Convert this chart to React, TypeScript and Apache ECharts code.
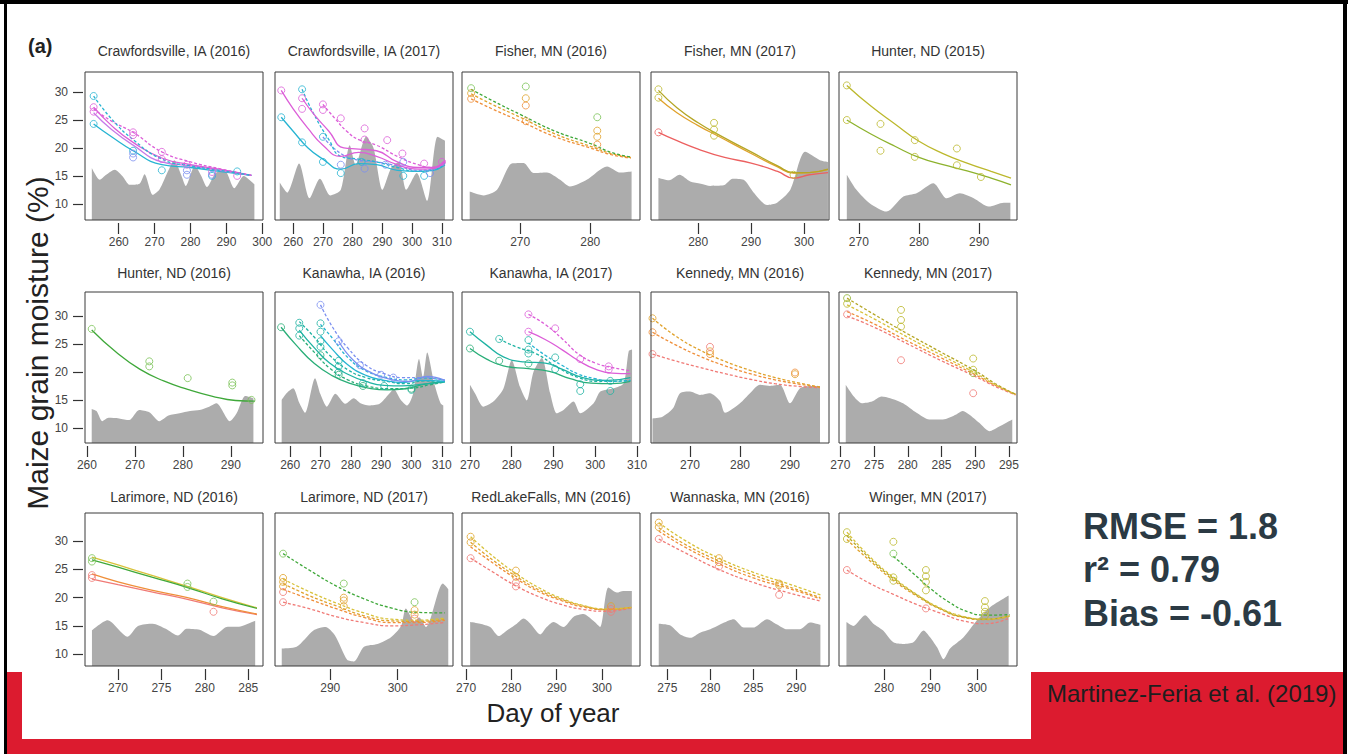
import React, { useEffect, useRef } from 'react';
import * as echarts from 'echarts';

type Pt = [number, number];

// ---------- text ----------
const panelTitles = [
  'Crawfordsville, IA (2016)', 'Crawfordsville, IA (2017)', 'Fisher, MN (2016)', 'Fisher, MN (2017)', 'Hunter, ND (2015)',
  'Hunter, ND (2016)', 'Kanawha, IA (2016)', 'Kanawha, IA (2017)', 'Kennedy, MN (2016)', 'Kennedy, MN (2017)',
  'Larimore, ND (2016)', 'Larimore, ND (2017)', 'RedLakeFalls, MN (2016)', 'Wannaska, MN (2016)', 'Winger, MN (2017)',
];
const xTickLabels: number[][] = [
  [260, 270, 280, 290, 300], [260, 270, 280, 290, 300, 310], [270, 280], [280, 290, 300], [270, 280, 290],
  [260, 270, 280, 290], [260, 270, 280, 290, 300, 310], [270, 280, 290, 300, 310], [270, 280, 290], [270, 275, 280, 285, 290, 295],
  [270, 275, 280, 285], [290, 300], [270, 280, 290, 300], [275, 280, 285, 290], [280, 290, 300],
];
const yTickLabels = [10, 15, 20, 25, 30];
const xRanges: Pt[] = [
  [250.6, 300.2], [253.9, 313.7], [261.7, 287.1], [271.1, 304.7], [266.7, 296.3],
  [259.6, 296.7], [255.0, 313.7], [268.1, 310.7], [262.2, 297.8], [269.8, 296.2],
  [266.2, 286.7], [281.8, 308.2], [269.1, 308.4], [273.1, 293.8], [270.3, 308.6],
];
const rowYRanges: Pt[] = [[7.1, 33.6], [7.3, 34.3], [7.9, 35.0]];

// ---------- Crawfordsville 2016 ----------
const craw16Gray: Pt[] = [[252.5,16.4],[254.7,14.3],[256.5,15.2],[258.9,16.1],[261,15],[263.1,13.4],[265.8,13.6],[267.2,15.3],[269.5,11.6],[271.4,12.6],[273.5,15.5],[275.5,17.8],[277.5,15],[278.7,13.2],[281.2,16.8],[283,15],[284.6,13],[287,15.5],[289.5,16],[292.2,12.8],[294.8,15],[297.8,13.5]];
const craw16CyanDash: Pt[] = [[253,29.3],[258,25.2],[264,21.5],[272,18],[280,16.8],[288,16],[297,15.1]];
const craw16MagentaSolid: Pt[] = [[253,27.3],[258,24],[264,21],[272,18.2],[280,17],[288,16.2],[297,15.1]];
const craw16VioletSolid: Pt[] = [[253,26.3],[258,23.3],[264,20.5],[272,17.5],[280,16.8],[288,16],[297,15.1]];
const craw16CyanSolid: Pt[] = [[253,24.3],[258,22],[264,19.5],[272,17],[280,16.5],[288,15.8],[297,15.1]];
const craw16MagentaDash: Pt[] = [[253,27],[258,24.8],[264,22.8],[272,19.3],[280,17.5],[288,16.3],[297,15.1]];
const craw16ObsCyan: Pt[] = [[253,29.3],[253,24.3],[264,19.5],[272,16],[286,15],[293,15.8]];
const craw16ObsMagenta: Pt[] = [[253,27.3],[253,26.5],[264,22.8],[264,22.3],[272,19.3],[272,18],[279,17],[286,15.7],[293,15]];
const craw16ObsBlue: Pt[] = [[264,18.3],[264,19],[279,16],[279,15.2],[286,15.2]];

// ---------- Crawfordsville 2017 ----------
const craw17Gray: Pt[] = [[255.5,13.8],[258,12],[262,17.2],[265.5,11],[269,14.5],[272.5,11.5],[276,12.5],[279,20.5],[281,17],[284.5,22],[287,20],[290,12.5],[293,16.5],[295.5,17.5],[298,12.5],[301.5,15.5],[305,10.5],[308.5,22],[311,21.3]];
const craw17MagentaSolidA: Pt[] = [[256,30.3],[260,27],[265,23.5],[270,20.5],[276,18.5],[282,19.2],[288,18.5],[295,17],[302,16.2],[307,16.3],[311,17.5]];
const craw17CyanSolid: Pt[] = [[256,25.5],[260,23],[265,20],[270,18],[276,16.2],[282,17.2],[288,17],[295,16],[302,15.8],[307,16],[311,17]];
const craw17CyanDash: Pt[] = [[263,30.5],[267,26],[272,21.5],[276,18.5],[282,18],[288,17.5],[295,16.5],[302,15.8],[307,16],[311,17.2]];
const craw17MagentaSolidB: Pt[] = [[263,28.9],[267,26],[272,23],[277,20],[282,19.8],[288,19.5],[295,17.5],[302,16.5],[307,16.5],[311,17.8]];
const craw17MagentaDash: Pt[] = [[270,27.8],[274,25.3],[278,23],[282,21.5],[288,20.5],[295,18.5],[302,17],[307,16.5],[311,17.8]];
const craw17BlueDash: Pt[] = [[270,22],[276,19],[282,17.8],[288,17.5],[295,16.8],[302,16],[307,16.2],[311,17.3]];
const craw17ObsMagenta: Pt[] = [[256,30.3],[263,28.9],[263,27],[270,27.8],[270,26.8],[276,25.3],[284,23.5],[284,21.5],[291.6,21.4],[296.7,19],[304,17.2],[310,17.5]];
const craw17ObsCyan: Pt[] = [[256,25.5],[263,21],[263,30.5],[270,17.5],[270,22],[276,15.5],[283,17.5],[297,15],[304,15]];
const craw17ObsBlue: Pt[] = [[276,17],[284,16.3],[291,17],[297,17.5],[306,15.5]];

// ---------- Fisher 2016 ----------
const fish16Gray: Pt[] = [[262.8,12.2],[264.8,11.5],[266.7,12.5],[268.8,17.2],[270.5,17.3],[271.9,15.5],[273.8,15.6],[275.7,14.3],[277.1,13.1],[279.5,14.3],[282.4,16.7],[284.3,15.6],[285.9,15.8]];
const fish16GreenDash: Pt[] = [[263,30.5],[266,28.5],[270,26],[275,23],[280,20.8],[283,19.2],[285.8,18.4]];
const fish16YellowDash: Pt[] = [[263,29.7],[266,27.8],[270,25.5],[275,22.5],[280,20.3],[283,19],[285.8,18.3]];
const fish16OrangeDash: Pt[] = [[263,28.8],[266,27],[270,24.8],[275,22],[280,20],[283,18.8],[285.8,18.2]];
const fish16ObsGreen: Pt[] = [[263,30.7],[270.8,31],[281,25.5]];
const fish16ObsYellow: Pt[] = [[263,29.8],[270.8,28.9],[281,23.1],[281,22]];
const fish16ObsOrange: Pt[] = [[263,28.8],[270.8,27.6],[270.8,24.8],[281,20.6]];

// ---------- Fisher 2017 ----------
const fish17Gray: Pt[] = [[272.5,14.6],[274.5,14.2],[276.5,15.2],[278.5,14],[280.5,13.6],[282.3,13.2],[284.8,13.3],[286.5,14.5],[288.6,14.3],[290.5,12],[293,9.8],[294.9,10.2],[297.4,12.5],[300.2,19.3],[303,17.8],[304.5,17.5]];
const fish17OliveSolid: Pt[] = [[272.5,30.3],[276,27.2],[280,24.5],[284,22.3],[290,19.3],[295,16.8],[298,15.6],[301,15.6],[304.5,16.2]];
const fish17GoldSolid: Pt[] = [[272.5,28.9],[276,26.3],[280,24],[284,22],[290,19],[295,16.6],[298,15.5],[301,15.6],[304.5,16.1]];
const fish17RedSolid: Pt[] = [[272.5,22.8],[276,21.3],[280,19.8],[285,18.3],[290,17.3],[295,15.8],[298,14.6],[301,15.2],[304.5,15.6]];
const fish17ObsOlive: Pt[] = [[272.5,30.5],[272.5,29],[283,24.5],[283,23.3],[283,22.2],[298,15.2]];
const fish17ObsRed: Pt[] = [[272.5,22.8]];

// ---------- Hunter 2015 ----------
const hunt15Gray: Pt[] = [[268,15.2],[269.6,12.5],[271.8,10.1],[274.6,8.6],[277.4,11.3],[279.6,11.9],[282.4,13.7],[284.6,11],[286.8,11.9],[289.1,11],[291.6,9.5],[294.1,10.2],[295.2,10.2]];
const hunt15Upper: Pt[] = [[268,31.2],[272,27.5],[276,24.3],[280,21.2],[284,19],[288,17.3],[292,15.8],[295.3,14.6]];
const hunt15Lower: Pt[] = [[268,25],[272,22.5],[276,20.3],[280,18.3],[284,17],[288,15.9],[292,14.6],[295.3,13.4]];
const hunt15Obs: Pt[] = [[268,31.2],[268,25],[273.6,24.3],[273.6,19.5],[279.3,21.4],[279.3,18.4],[286.3,19.9],[286.3,16.9],[290.3,14.8]];

// ---------- Hunter 2016 ----------
const hunt16Gray: Pt[] = [[261,13.4],[262,13],[263.2,11.2],[264.5,11.8],[266.7,11.7],[268.8,11.4],[270.9,13.2],[273,12.8],[275.1,11.2],[277,12.2],[279.3,12.6],[281.5,13],[283.5,13.2],[285.5,13.8],[287,14.4],[289.8,11.2],[291.2,12.6],[293,15.7],[294.7,15.3]];
const hunt16Green: Pt[] = [[261,27.5],[266,23.6],[271,20.5],[276,18.4],[281,16.9],[286,15.7],[291,14.9],[295,14.8]];
const hunt16Obs: Pt[] = [[261,27.7],[273,21.9],[273,21],[281,18.9],[290.3,18.1],[290.3,17.6],[294.3,15]];

// ---------- Kanawha 2016 ----------
const kan16Gray: Pt[] = [[257.2,15],[258.8,16.2],[261,17.1],[263,14.5],[264.9,12.7],[268.2,18.9],[270,16],[272.1,13.8],[274.9,16.1],[278.2,14.3],[281,15.3],[283.2,14.4],[286,14],[289.5,14.3],[292.5,16],[294.2,16.9],[296.5,15],[298.6,14],[300.5,16],[302.5,22.3],[303.8,19],[305.2,23.5],[307.5,18],[309.6,14.4],[310.5,14]];
const kan16GreenSolid: Pt[] = [[257,28],[262,24.8],[268,21.5],[274,19.3],[280,17.9],[286,17.1],[292,16.8],[298,17],[304,17.8],[311,18.3]];
const kan16TealSolid: Pt[] = [[263,27.5],[268,24.3],[273,21.6],[279,19.6],[285,18.3],[291,17.6],[297,17.5],[303,17.8],[311,18.2]];
const kan16TealDash: Pt[] = [[263,29],[268,26.2],[273,23],[279,20.4],[285,19],[291,18.4],[298,17.9],[304,18.4],[311,18.3]];
const kan16CyanSolid: Pt[] = [[270,26.5],[274,24],[279,21.3],[285,19.4],[291,18.5],[297,18.1],[303,18.5],[311,18.3]];
const kan16CyanDash: Pt[] = [[270,28.5],[274,26],[279,22.6],[285,20.2],[292,19],[298,18.6],[304,18.9],[311,18.5]];
const kan16BlueDash: Pt[] = [[270,32],[274,28],[279,24.3],[285,21.2],[291,19.7],[297,19],[304,19],[311,18.5]];
const kan16BlueSolid: Pt[] = [[276,25.5],[281,22],[287,19.8],[293,18.7],[299,18.3],[305,19.2],[311,18.5]];
const kan16GreenDash: Pt[] = [[263,26.5],[268,23.5],[273,20.7],[279,18.6],[286,17.4],[293,17],[300,17.1],[306,17.7],[311,18.2]];
const kan16ObsTeal: Pt[] = [[263,28.8],[263,27.8],[263,26.5],[270,28.7],[270,27.2],[270,25.5],[270,24.5],[276,22],[276,21],[276,20],[284,18],[291,17.5],[300,16.8]];
const kan16ObsBlue: Pt[] = [[270,32],[276,25.5],[283,21.2],[290,19.5],[294,19]];
const kan16ObsGreen: Pt[] = [[257,28],[270,23],[276,19.5],[284,17.5],[300,17]];

// ---------- Kanawha 2017 ----------
const kan17Gray: Pt[] = [[270,17.7],[271.2,16.2],[273.2,13.8],[275.6,14.7],[278,17],[280,22.1],[282,17.3],[283.6,14.9],[285.2,20],[287.2,22.5],[289.2,16.2],[290.8,12.6],[292.4,13.2],[294.8,14.7],[296.4,12.6],[299.6,14.4],[301.2,16.5],[304.4,17.1],[306.8,18],[308,23.7],[308.8,24]];
const kan17TealSolid: Pt[] = [[270,27.2],[274,24.8],[278,22.7],[283,21.8],[288,21.6],[292,20.5],[297,19],[303,18.5],[308.4,19]];
const kan17GreenSolid: Pt[] = [[270,24.2],[274,22.3],[278,21.1],[284,20.6],[289,20.1],[294,18.8],[299,18],[304,17.9],[308.4,18.3]];
const kan17TealDash: Pt[] = [[277,25.9],[281,24.5],[286,23.2],[291,20.8],[296,19],[301,18.3],[308.4,18.5]];
const kan17MagentaDash: Pt[] = [[284,30.3],[288,28.5],[292,26],[296,23.2],[300,21.6],[304,20.8],[308.4,20.2]];
const kan17MagentaSolid: Pt[] = [[284,27.2],[288,25.8],[292,24],[296,22],[300,20.5],[304,19.8],[308.4,19.7]];
const kan17CyanDash: Pt[] = [[284,25.2],[288,23],[292,21.2],[296,19.6],[300,18.8],[304,18.3],[308.4,18.5]];
const kan17ObsTeal: Pt[] = [[270,27.2],[277,25.9],[284,25.7],[284,24],[284,23.3],[290.4,22.6],[290.4,20.5],[296.4,17.8],[296.4,16.6],[303.6,18.4],[303.6,16.6]];
const kan17ObsGreen: Pt[] = [[270,24.2],[277,22],[284,21.5]];
const kan17ObsMagenta: Pt[] = [[284,30.3],[284,27.2],[290.4,27.8],[296.4,22.3],[303.2,21],[303.2,20.4]];

// ---------- Kennedy 2016 ----------
const ken16Gray: Pt[] = [[262.5,11.7],[264.5,12],[266.6,13.5],[268,16.2],[270,16.5],[272,15.9],[274,16.2],[276,14.8],[277,12.7],[280,14.4],[282,16.2],[284,17.7],[286,17.5],[288,17.7],[290,14.4],[292,17.1],[294,17.5],[296,17.5]];
const ken16YellowDash: Pt[] = [[262.5,29.6],[267,26.5],[272,23.9],[277,21.9],[282,20.3],[287,19],[292,18],[296,17.3]];
const ken16OrangeDash: Pt[] = [[262.5,27.1],[267,24.9],[272,22.8],[277,21.1],[282,19.7],[287,18.6],[292,17.8],[296,17.3]];
const ken16SalmonDash: Pt[] = [[262.5,23.2],[267,22],[272,20.8],[277,19.7],[282,18.7],[287,17.9],[292,17.4],[296,17.2]];
const ken16ObsYellow: Pt[] = [[262.5,29.6],[274,23.7],[291,19.6]];
const ken16ObsOrange: Pt[] = [[262.5,27.1],[274,23.2],[291,19.9]];
const ken16ObsSalmon: Pt[] = [[262.5,23.2],[274,24.5]];

// ---------- Kennedy 2017 ----------
const ken17Gray: Pt[] = [[270.8,17.7],[272,15.6],[273.2,14.4],[274.7,14.7],[276.1,15.6],[277.4,15.3],[279.3,14.4],[281.3,12.7],[283.2,11.5],[285.2,11.5],[287.2,12.4],[288.1,13],[289.1,12.4],[290.6,10.9],[292.1,9.4],[293.5,10.2],[295.5,11.5]];
const ken17GreenDash: Pt[] = [[271,33.2],[275,30.3],[280,26.8],[285,23.5],[290,20.2],[293,17.9],[296,16]];
const ken17YellowDash: Pt[] = [[271,32],[275,29.5],[280,26.2],[285,23],[290,19.8],[293,17.7],[296,16]];
const ken17OrangeDash: Pt[] = [[271,30.8],[275,28.6],[280,25.5],[285,22.5],[290,19.5],[293,17.6],[296,16]];
const ken17SalmonDash: Pt[] = [[271,30],[275,28],[280,25],[285,22],[290,19.2],[293,17.4],[296,15.9]];
const ken17ObsGreen: Pt[] = [[271,33.2],[289.7,19.8]];
const ken17ObsYellow: Pt[] = [[271,32.2],[279,31.1],[279,29.3],[279,28.1],[289.7,22.4],[289.7,20.4]];
const ken17ObsSalmon: Pt[] = [[271,30.3],[279,22.1],[289.7,16.2]];

// ---------- Larimore 2016 ----------
const lar16Gray: Pt[] = [[267,14.2],[268.8,16],[271.1,13.1],[272.3,15],[274,15.4],[275.5,14.5],[276.9,13.3],[277.9,14.5],[279.4,14.3],[281,13.2],[282.5,14.8],[284.1,14.9],[285.8,15.9]];
const lar16GreenSolid: Pt[] = [[267,26.7],[270,25.4],[274,23.6],[278,21.8],[282,19.8],[286,18.1]];
const lar16YellowSolid: Pt[] = [[267,27.2],[270,25.8],[274,23.9],[278,22],[282,20],[286,18.2]];
const lar16OrangeSolid: Pt[] = [[267,24.2],[270,22.8],[274,21.3],[278,20],[282,18.4],[286,17.1]];
const lar16SalmonSolid: Pt[] = [[267,23.3],[270,22.3],[274,21],[278,19.7],[282,18.2],[286,17]];
const lar16ObsGreen: Pt[] = [[267,27],[267,26.4],[278,22.5],[278,21.9],[281,19.3]];
const lar16ObsOrange: Pt[] = [[267,24],[267,23.5],[281,17.5]];

// ---------- Larimore 2017 ----------
const lar17Gray: Pt[] = [[282.8,11],[285,11.3],[287.5,14.2],[289.3,14.8],[290.7,13.3],[292.5,9],[293.5,8.7],[295,11.3],[297,11.8],[299,13],[300.5,15],[301.2,18.1],[302.5,15.8],[303.2,16.5],[304.2,14.8],[306.7,22.5],[307.5,21.5]];
const lar17GreenDash: Pt[] = [[283,27.8],[287,24.8],[291,22],[295,19.8],[299,18.2],[303,17.4],[307,17.3]];
const lar17YellowDash: Pt[] = [[283,23.3],[287,21],[291,19],[295,17.3],[299,16.2],[303,16],[307,16.4]];
const lar17GoldDash: Pt[] = [[283,22.5],[287,20.3],[291,18.5],[295,16.8],[299,15.9],[303,15.8],[307,16.2]];
const lar17OrangeDash: Pt[] = [[283,21.5],[287,19.7],[291,18],[295,16.5],[299,15.6],[303,15.6],[307,16]];
const lar17SalmonDash: Pt[] = [[283,19.2],[287,18],[291,16.6],[295,15.6],[299,15],[303,15.2],[307,15.6]];
const lar17ObsGreen: Pt[] = [[283,27.8],[292,22.5],[302.5,19.2]];
const lar17ObsYellow: Pt[] = [[283,23.5],[283,22.8],[283,22],[292,20],[292,19.5],[292,18.5],[302.5,17.8],[302.5,17]];
const lar17ObsSalmon: Pt[] = [[283,21],[283,19.2],[302.5,16.3]];

// ---------- RedLakeFalls 2016 ----------
const red16Gray: Pt[] = [[270.9,15.7],[273.1,15.4],[275.3,14.8],[277.2,13.2],[279,14.2],[281.2,15.4],[282.7,16.3],[284.2,15.4],[286.4,13.5],[287.8,14.8],[289.3,15.7],[291.5,14.8],[293.7,16.6],[295.9,17.1],[298.1,15.9],[299.6,14.8],[301.4,21.8],[303.3,20.9],[304.7,21.2],[306.6,21.2]];
const red16YellowDash: Pt[] = [[271,30.8],[276,27.3],[281,24.3],[286,21.8],[291,19.9],[296,18.6],[301,18],[306.5,18.3]];
const red16GoldDash: Pt[] = [[271,29.8],[276,26.6],[281,23.8],[286,21.4],[291,19.7],[296,18.5],[301,17.9],[306.5,18.3]];
const red16OrangeDash: Pt[] = [[271,29],[276,26.1],[281,23.4],[286,21.1],[291,19.5],[296,18.3],[301,17.9],[306.5,18.3]];
const red16SalmonDash: Pt[] = [[271,27],[276,24.5],[281,22.1],[286,20.2],[291,18.8],[296,17.9],[301,17.6],[306.5,18.2]];
const red16ObsYellow: Pt[] = [[271,30.8],[271,29.8],[281,24.8],[281,23.7],[302,18.5]];
const red16ObsSalmon: Pt[] = [[271,27],[281,22.7],[281,22],[302,18],[302,17.5]];

// ---------- Wannaska 2016 ----------
const wan16Gray: Pt[] = [[274,15.4],[275.3,15.1],[276.5,13.5],[277.7,12.9],[278.8,13.8],[280,14.4],[281.6,15.6],[282.7,16.2],[283.9,14.7],[285,14.7],[286.6,16.2],[287.7,15.3],[288.9,14.4],[290.4,14.4],[291.6,15.6],[292.8,15.2]];
const wan16YellowDash: Pt[] = [[274,33.3],[277,30.2],[281,27],[285,24.5],[289,22.5],[292.8,20.5]];
const wan16GoldDash: Pt[] = [[274,32.4],[277,29.5],[281,26.5],[285,24],[289,22],[292.8,20]];
const wan16OrangeDash: Pt[] = [[274,31.8],[277,29],[281,26],[285,23.5],[289,21.7],[292.8,19.8]];
const wan16SalmonDash: Pt[] = [[274,30.4],[277,28],[281,25],[285,22.7],[289,20.9],[292.8,19.4]];
const wan16ObsYellow: Pt[] = [[274,33.3],[274,32.5],[281,27],[281,26.3],[288,22.5],[288,22.2]];
const wan16ObsSalmon: Pt[] = [[274,30.4],[281,25.5],[288,20.5]];

// ---------- Winger 2017 ----------
const win17Gray: Pt[] = [[271.9,15.7],[273.4,15],[275.9,16.9],[277.7,15.4],[279.8,14.2],[282,12.1],[284.2,11.8],[286.3,12.1],[288.5,14.2],[289.9,13],[291.4,11.2],[292.8,9.1],[294.2,11],[297.1,13],[300,16],[302.8,18.3],[305,19.5],[306.8,20.4]];
const win17GreenDash: Pt[] = [[282,27.3],[286,24.5],[290,21.6],[294,19.2],[298,17.5],[302,16.9],[307,17]];
const win17YellowDash: Pt[] = [[272,31.6],[277,27.2],[282,23.6],[287,20.6],[292,18.2],[297,16.7],[302,16.2],[307,16.8]];
const win17GoldDash: Pt[] = [[272,30.3],[277,26.5],[282,23.1],[287,20.3],[292,18],[297,16.5],[302,16.1],[307,16.7]];
const win17OliveDash: Pt[] = [[272,31],[277,26.9],[282,23.4],[287,20.5],[292,18.1],[297,16.6],[302,16.2],[307,16.8]];
const win17SalmonDash: Pt[] = [[272,24.9],[277,22.5],[282,20.6],[287,18.8],[292,17.3],[297,15.9],[302,15.4],[307,16.4]];
const win17ObsYellow: Pt[] = [[272,31.6],[272,30.4],[282,29.9],[282,23.6],[282,23],[289,24.9],[289,23.8],[289,22.8],[289,21.3],[301.7,19.4],[301.7,18.3],[301.7,17.5],[301.7,16.8]];
const win17ObsGreen: Pt[] = [[282,27.8]];
const win17ObsSalmon: Pt[] = [[272,24.9],[289,18.1]];

// ---------- styling / layout ----------
const COL: Record<string, string> = {
  cyan: '#27b4d2', teal: '#1fb3a3', tealGreen: '#2aae78', green: '#3fa83a', lightGreen: '#79c255',
  magenta: '#dc5ed8', violet: '#c77be8', blue: '#7a8ff0', olive: '#b5a626', yellowOlive: '#bcb82c',
  oliveGreen: '#8db22d', yellow: '#d8c23a', gold: '#e0a22c', orange: '#ef8f3a', salmon: '#f07a76', red: '#ec6060',
};
const FONT = '"Liberation Sans", Arial, Helvetica, sans-serif';
const colLeft = [85, 275, 462, 651, 839];
const boxW = 178;
const rowTop = [72, 292, 513];
const rowH = [148, 151, 153];
const titleY = [51, 273, 497];

type LineSpec = [Pt[], string, boolean];
type ObsSpec = [Pt[], string];
interface Panel { gray: Pt[]; lines: LineSpec[]; obs: ObsSpec[] }

const panels: Panel[] = [
  { gray: craw16Gray, lines: [[craw16CyanSolid, 'cyan', false], [craw16VioletSolid, 'violet', false], [craw16MagentaSolid, 'magenta', false], [craw16MagentaDash, 'magenta', true], [craw16CyanDash, 'cyan', true]],
    obs: [[craw16ObsCyan, 'cyan'], [craw16ObsMagenta, 'magenta'], [craw16ObsBlue, 'blue']] },
  { gray: craw17Gray, lines: [[craw17CyanSolid, 'cyan', false], [craw17BlueDash, 'blue', true], [craw17CyanDash, 'cyan', true], [craw17MagentaSolidA, 'magenta', false], [craw17MagentaSolidB, 'magenta', false], [craw17MagentaDash, 'magenta', true]],
    obs: [[craw17ObsCyan, 'cyan'], [craw17ObsMagenta, 'magenta'], [craw17ObsBlue, 'blue']] },
  { gray: fish16Gray, lines: [[fish16OrangeDash, 'orange', true], [fish16YellowDash, 'gold', true], [fish16GreenDash, 'green', true]],
    obs: [[fish16ObsGreen, 'lightGreen'], [fish16ObsYellow, 'gold'], [fish16ObsOrange, 'orange']] },
  { gray: fish17Gray, lines: [[fish17RedSolid, 'red', false], [fish17GoldSolid, 'gold', false], [fish17OliveSolid, 'olive', false]],
    obs: [[fish17ObsOlive, 'yellowOlive'], [fish17ObsRed, 'red']] },
  { gray: hunt15Gray, lines: [[hunt15Lower, 'oliveGreen', false], [hunt15Upper, 'yellowOlive', false]],
    obs: [[hunt15Obs, 'yellowOlive']] },
  { gray: hunt16Gray, lines: [[hunt16Green, 'green', false]],
    obs: [[hunt16Obs, 'lightGreen']] },
  { gray: kan16Gray, lines: [[kan16GreenSolid, 'tealGreen', false], [kan16GreenDash, 'tealGreen', true], [kan16TealSolid, 'teal', false], [kan16TealDash, 'teal', true], [kan16CyanSolid, 'cyan', false], [kan16CyanDash, 'cyan', true], [kan16BlueSolid, 'blue', false], [kan16BlueDash, 'blue', true]],
    obs: [[kan16ObsTeal, 'teal'], [kan16ObsBlue, 'blue'], [kan16ObsGreen, 'tealGreen']] },
  { gray: kan17Gray, lines: [[kan17GreenSolid, 'tealGreen', false], [kan17TealSolid, 'teal', false], [kan17TealDash, 'teal', true], [kan17CyanDash, 'cyan', true], [kan17MagentaSolid, 'magenta', false], [kan17MagentaDash, 'magenta', true]],
    obs: [[kan17ObsTeal, 'teal'], [kan17ObsGreen, 'tealGreen'], [kan17ObsMagenta, 'magenta']] },
  { gray: ken16Gray, lines: [[ken16SalmonDash, 'salmon', true], [ken16OrangeDash, 'orange', true], [ken16YellowDash, 'gold', true]],
    obs: [[ken16ObsYellow, 'gold'], [ken16ObsOrange, 'orange'], [ken16ObsSalmon, 'salmon']] },
  { gray: ken17Gray, lines: [[ken17SalmonDash, 'salmon', true], [ken17OrangeDash, 'orange', true], [ken17YellowDash, 'yellow', true], [ken17GreenDash, 'olive', true]],
    obs: [[ken17ObsGreen, 'oliveGreen'], [ken17ObsYellow, 'yellowOlive'], [ken17ObsSalmon, 'salmon']] },
  { gray: lar16Gray, lines: [[lar16SalmonSolid, 'salmon', false], [lar16OrangeSolid, 'orange', false], [lar16YellowSolid, 'yellow', false], [lar16GreenSolid, 'green', false]],
    obs: [[lar16ObsGreen, 'lightGreen'], [lar16ObsOrange, 'salmon']] },
  { gray: lar17Gray, lines: [[lar17SalmonDash, 'salmon', true], [lar17OrangeDash, 'orange', true], [lar17GoldDash, 'gold', true], [lar17YellowDash, 'yellow', true], [lar17GreenDash, 'green', true]],
    obs: [[lar17ObsGreen, 'lightGreen'], [lar17ObsYellow, 'gold'], [lar17ObsSalmon, 'salmon']] },
  { gray: red16Gray, lines: [[red16SalmonDash, 'salmon', true], [red16OrangeDash, 'orange', true], [red16GoldDash, 'gold', true], [red16YellowDash, 'yellow', true]],
    obs: [[red16ObsYellow, 'gold'], [red16ObsSalmon, 'salmon']] },
  { gray: wan16Gray, lines: [[wan16SalmonDash, 'salmon', true], [wan16OrangeDash, 'orange', true], [wan16GoldDash, 'gold', true], [wan16YellowDash, 'yellow', true]],
    obs: [[wan16ObsYellow, 'gold'], [wan16ObsSalmon, 'salmon']] },
  { gray: win17Gray, lines: [[win17SalmonDash, 'salmon', true], [win17GoldDash, 'gold', true], [win17OliveDash, 'olive', true], [win17YellowDash, 'yellow', true], [win17GreenDash, 'green', true]],
    obs: [[win17ObsYellow, 'yellowOlive'], [win17ObsGreen, 'lightGreen'], [win17ObsSalmon, 'salmon']] },
];

function buildOption(): any {
  const grid: any[] = [], xAxis: any[] = [], yAxis: any[] = [], series: any[] = [], graphic: any[] = [];
  panels.forEach((p, i) => {
    const r = Math.floor(i / 5), c = i % 5;
    grid.push({ left: colLeft[c], top: rowTop[r], width: boxW, height: rowH[r], show: true, borderColor: '#3a3a3a', borderWidth: 1, backgroundColor: 'rgba(0,0,0,0)', z: 10 });
    xAxis.push({
      type: 'value', gridIndex: i, min: xRanges[i][0], max: xRanges[i][1], position: 'bottom', offset: 3,
      axisLine: { show: false }, splitLine: { show: false },
      axisTick: { show: true, length: 11, customValues: xTickLabels[i], lineStyle: { color: '#333', width: 1.2 } },
      axisLabel: { customValues: xTickLabels[i], margin: 13, fontSize: 12, color: '#444', fontFamily: FONT, hideOverlap: false, showMinLabel: true, showMaxLabel: true },
    });
    yAxis.push({
      type: 'value', gridIndex: i, min: rowYRanges[r][0], max: rowYRanges[r][1], offset: 2,
      axisLine: { show: false }, splitLine: { show: false },
      axisTick: { show: c === 0, length: 10, customValues: yTickLabels, lineStyle: { color: '#333', width: 1.2 } },
      axisLabel: { show: c === 0, customValues: yTickLabels, margin: 15, fontSize: 12, color: '#444', fontFamily: FONT },
    });
    series.push({
      type: 'line', xAxisIndex: i, yAxisIndex: i, data: p.gray, symbol: 'none', smooth: 0.25,
      lineStyle: { width: 0 }, areaStyle: { color: '#acacac', opacity: 1, origin: 'start' }, silent: true, z: 1,
    });
    p.lines.forEach(([d, col, dash]) => {
      series.push({
        type: 'line', xAxisIndex: i, yAxisIndex: i, data: d, symbol: 'none', smooth: 0.5,
        lineStyle: { color: COL[col], width: 1.3, type: dash ? [3, 2] : 'solid' }, silent: true, z: 3,
      });
    });
    p.obs.forEach(([d, col]) => {
      series.push({
        type: 'scatter', xAxisIndex: i, yAxisIndex: i, data: d, symbol: 'circle', symbolSize: 7,
        itemStyle: { color: 'rgba(0,0,0,0)', borderColor: COL[col], borderWidth: 1 }, silent: true, z: 4,
      });
    });
    graphic.push({
      type: 'text', x: colLeft[c] + boxW / 2, y: titleY[r],
      style: { text: panelTitles[i], fontSize: 14, fontFamily: FONT, fill: '#333', align: 'center', verticalAlign: 'middle' },
    });
  });

  graphic.push({ type: 'text', x: 28, y: 46, style: { text: '(a)', fontSize: 20, fontWeight: 'bold', fontFamily: FONT, fill: '#222', align: 'left', verticalAlign: 'middle' } });
  graphic.push({ type: 'text', x: 37, y: 343, rotation: Math.PI / 2, style: { text: 'Maize grain moisture (%)', fontSize: 30, fontFamily: FONT, fill: '#222', align: 'center', verticalAlign: 'middle' } });
  graphic.push({ type: 'text', x: 553, y: 713, style: { text: 'Day of year', fontSize: 26, fontFamily: FONT, fill: '#222', align: 'center', verticalAlign: 'middle' } });
  const stats = ['RMSE = 1.8', 'r\u00b2 = 0.79', 'Bias = -0.61'];
  const statsY = [526, 569, 613];
  stats.forEach((t, k) => graphic.push({ type: 'text', x: 1083, y: statsY[k], style: { text: t, fontSize: 36, fontWeight: 'bold', fontFamily: FONT, fill: '#2b3a44', align: 'left', verticalAlign: 'middle' } }));
  graphic.push({ type: 'text', x: 1047, y: 693, style: { text: 'Martinez-Feria et al. (2019)', fontSize: 24, fontFamily: FONT, fill: '#1e1e1e', align: 'left', verticalAlign: 'middle' } });

  return { animation: false, backgroundColor: 'rgba(0,0,0,0)', grid, xAxis, yAxis, series, graphic };
}

export default function App() {
  const ref = useRef<HTMLDivElement>(null);
  useEffect(() => {
    if (!ref.current) return;
    const chart = echarts.init(ref.current, null, { renderer: 'svg', width: 1348, height: 754 });
    chart.setOption(buildOption());
    return () => chart.dispose();
  }, []);
  return (
    <div style={{ position: 'fixed', left: 0, top: 0, width: 1348, height: 754, background: '#fff', overflow: 'hidden' }}>
      <div style={{ position: 'absolute', left: 7, top: 672, width: 1336, height: 82, background: '#dc1b2f' }} />
      <div style={{ position: 'absolute', left: 22, top: 4, width: 1009, height: 735, background: '#fff' }} />
      <div style={{ position: 'absolute', left: 0, top: 0, width: 1348, height: 4, background: '#000' }} />
      <div style={{ position: 'absolute', left: 4, top: 0, width: 3, height: 754, background: '#000' }} />
      <div style={{ position: 'absolute', left: 1343, top: 0, width: 4, height: 754, background: '#000' }} />
      <div ref={ref} style={{ position: 'absolute', left: 0, top: 0, width: 1348, height: 754 }} />
    </div>
  );
}
